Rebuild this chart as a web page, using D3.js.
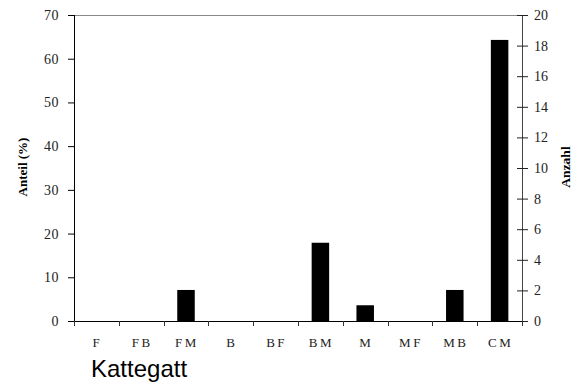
<!DOCTYPE html>
<html><head><meta charset="utf-8">
<script src="https://cdn.jsdelivr.net/npm/d3@7"></script>
<style>body{margin:0;background:#fff}</style>
</head><body>
<svg id="c" width="586" height="387"></svg>
<script>
const categories = ["F","FB","FM","B","BF","BM","M","MF","MB","CM"];
const counts = [0,0,2,0,0,5,1,0,2,18];
const percents = [0,0,7.1,0,0,17.9,3.6,0,7.1,64.3];
const leftTicks = [0,10,20,30,40,50,60,70];
const rightTicks = [0,2,4,6,8,10,12,14,16,18,20];

const svg = d3.select("#c");
const L = 74, R = 522, T = 15, B = 321;
const x = d3.scaleBand().domain(categories).range([L, R]);
const yL = d3.scaleLinear().domain([0,70]).range([B, T]);
const yR = d3.scaleLinear().domain([0,20]).range([B, T]);

// top border
svg.append("line").attr("x1",L).attr("x2",R).attr("y1",T+0.5).attr("y2",T+0.5)
  .attr("stroke","#888").attr("stroke-width",1);

// bars
const bw = 17.5;
svg.selectAll("rect.bar").data(categories).enter().append("rect")
  .attr("x", (d)=> x(d) + x.bandwidth()/2 - bw/2)
  .attr("y", (d,i)=> yL(percents[i]))
  .attr("width", bw)
  .attr("height", (d,i)=> B - yL(percents[i]))
  .attr("fill","#000");

const serif = "'Liberation Serif','Times New Roman',serif";

// left axis
const gl = svg.append("g").attr("transform",`translate(${L},0)`)
  .call(d3.axisLeft(yL).tickValues(leftTicks).tickSize(6).tickPadding(9));
gl.select(".domain").attr("stroke","#000").attr("d",`M0.5,${T}V${B}`);
gl.selectAll(".tick line").attr("stroke","#000").attr("x1",0.5);
gl.selectAll("text").attr("font-family",serif).attr("font-size",14).attr("letter-spacing",0.5).attr("fill","#222");

// right axis
const gr = svg.append("g").attr("transform",`translate(${R},0)`)
  .call(d3.axisRight(yR).tickValues(rightTicks).tickSize(6).tickPadding(6));
gr.select(".domain").attr("stroke","#444").attr("d",`M0.5,${T}V${B}`);
gr.selectAll(".tick line").attr("stroke","#222").attr("x1",-5).attr("x2",6);
gr.selectAll("text").attr("font-family",serif).attr("font-size",14).attr("fill","#222");

// bottom axis
const tickPos = categories.map(d=>x(d)).concat([R]);
svg.append("line").attr("x1",L).attr("x2",R).attr("y1",B+0.5).attr("y2",B+0.5).attr("stroke","#000");
svg.selectAll("line.xt").data(tickPos).enter().append("line")
  .attr("x1",d=>Math.round(d)+0.5).attr("x2",d=>Math.round(d)+0.5)
  .attr("y1",B).attr("y2",B+5).attr("stroke","#333");
svg.selectAll("text.xl").data(categories).enter().append("text")
  .attr("x",d=>x(d)+x.bandwidth()/2+1).attr("y",347)
  .attr("text-anchor","middle").attr("font-family",serif).attr("font-size",13)
  .attr("letter-spacing",2.5).attr("fill","#222").text(d=>d);

// axis titles
svg.append("text").attr("transform","translate(27,167) rotate(-90)")
  .attr("text-anchor","middle").attr("font-family",serif).attr("font-weight","bold")
  .attr("font-size",13).text("Anteil (%)");
svg.append("text").attr("transform","translate(570,167) rotate(-90)")
  .attr("text-anchor","middle").attr("font-family",serif).attr("font-weight","bold")
  .attr("font-size",13.5).text("Anzahl");

svg.append("text").attr("x",91).attr("y",377).attr("font-family","'Liberation Sans',Arial,sans-serif")
  .attr("font-size",24).attr("fill","#000").text("Kattegatt");
</script>
</body></html>
